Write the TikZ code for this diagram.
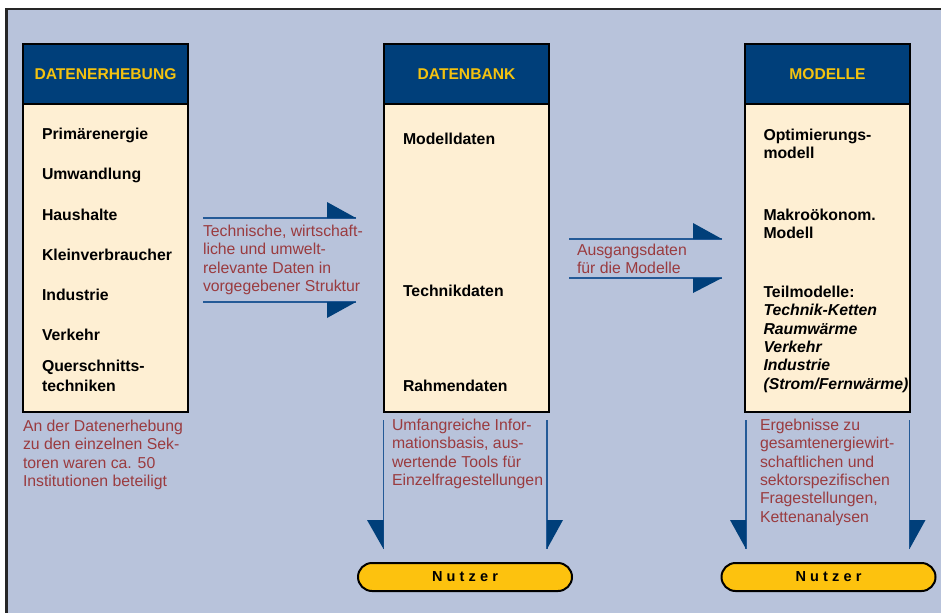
\documentclass[tikz,border=0pt]{standalone}
\usepackage{fontspec}
\setmainfont{Liberation Sans}
\definecolor{bg}{HTML}{B8C3DB}
\definecolor{hdr}{HTML}{003F7A}
\definecolor{cream}{HTML}{FEEFD3}
\definecolor{goldtxt}{HTML}{F4C20F}
\definecolor{redtxt}{HTML}{9A3B3F}
\definecolor{arrline}{HTML}{245A97}
\definecolor{pillgold}{HTML}{FDC20E}
\begin{document}
\begin{tikzpicture}[x=0.75pt,y=-0.75pt,
  hdrbox/.style={draw=black, line width=1.1pt, fill=hdr, minimum width=123.75pt, minimum height=45pt, inner sep=0pt, outer sep=0pt, text=goldtxt, font=\fontsize{11.7}{13}\selectfont\bfseries},
  bodybox/.style={draw=black, line width=1.1pt, fill=cream, minimum width=123.75pt, minimum height=231pt, inner sep=0pt, outer sep=0pt},
  item/.style={anchor=base west, inner sep=0pt, outer sep=0pt, align=left, font=\fontsize{11.85}{15}\selectfont\bfseries},
  note/.style={anchor=base west, inner sep=0pt, outer sep=0pt, align=left, text=redtxt, font=\fontsize{11.85}{13.7}\selectfont},
  flowline/.style={draw=arrline, line width=1.1pt},
  headtri/.style={fill=hdr},
  pill/.style={draw=black, line width=1.5pt, fill=pillgold, minimum width=160.5pt, minimum height=21pt, rounded corners=10.5pt, inner sep=0pt, font=\fontsize{10.9}{12}\selectfont\bfseries}
]
\useasboundingbox (0,0) rectangle (941,613);
\clip (0,0) rectangle (941,613);
\fill[white] (0,0) rectangle (941,613);
\draw[line width=1.9pt, draw=black!85, fill=bg] (6.5,8.8) rectangle (1000,700);

% boxes
\node[bodybox] (b1) at (105.5,258) {};
\node[hdrbox] (h1) at (105.5,74) {DATENERHEBUNG};
\node[bodybox] (b2) at (466.5,258) {};
\node[hdrbox] (h2) at (466.5,74) {DATENBANK};
\node[bodybox] (b3) at (827.5,258) {};
\node[hdrbox] (h3) at (827.5,74) {MODELLE};

% box 1 items (multi-line nodes: base = last line)
\node[item] (i11) at (42,140) {Primärenergie};
\node[item] (i12) at (42,180) {Umwandlung};
\node[item] (i13) at (42,220) {Haushalte};
\node[item] (i14) at (42,260) {Kleinverbraucher};
\node[item] (i15) at (42,300) {Industrie};
\node[item] (i16) at (42,340) {Verkehr};
\node[item] (i17) at (42,391) {Querschnitts-\\techniken};

% box 2 items
\node[item] (i21) at (403,144.3) {Modelldaten};
\node[item] (i22) at (403,296.7) {Technikdaten};
\node[item] (i23) at (403,391) {Rahmendaten};

% box 3 items
\node[item, font=\fontsize{11.85}{13.5}\selectfont\bfseries] (i31) at (763.5,158.7) {Optimierungs-\\modell};
\node[item, font=\fontsize{11.85}{13.5}\selectfont\bfseries] (i32) at (763.5,238.7) {Makroökonom.\\Modell};
\node[item, font=\fontsize{11.85}{13.75}\selectfont\bfseries] (i33) at (763.5,389) {Teilmodelle:\\\textit{Technik-Ketten}\\\textit{Raumwärme}\\\textit{Verkehr}\\\textit{Industrie}\\\textit{(Strom/Fernwärme)}};

% notes
\node[note] (n1) at (203,291.5) {Technische, wirtschaft-\\liche und umwelt-\\relevante Daten in\\vorgegebener Struktur};
\node[note, font=\fontsize{11.85}{13.2}\selectfont] (n2) at (577,273.3) {Ausgangsdaten\\für die Modelle};
\node[note] (n3) at (23,486.5) {An der Datenerhebung\\zu den einzelnen Sek-\\toren waren ca. 50\\Institutionen beteiligt};
\node[note] (n4) at (392,485.5) {Umfangreiche Infor-\\mationsbasis, aus-\\wertende Tools für\\Einzelfragestellungen};
\node[note] (n5) at (760,522) {Ergebnisse zu\\gesamtenergiewirt-\\schaftlichen und\\sektorspezifischen\\Fragestellungen,\\Kettenanalysen};

% pills
\node[pill] (u1) at (465,577) {N\kern3.1pt u\kern3.1pt t\kern3.1pt z\kern3.1pt e\kern3.1pt r};
\node[pill] (u2) at (828.5,577) {N\kern3.1pt u\kern3.1pt t\kern3.1pt z\kern3.1pt e\kern3.1pt r};

% horizontal arrows box1 -> box2
\coordinate (a1s) at (203,218); \coordinate (a1e) at (356,218);
\coordinate (a2s) at (203,302); \coordinate (a2e) at (356,302);
\draw[flowline] (a1s) -- (a1e);
\fill[headtri] (327,202) -- (327,218) -- (a1e) -- cycle;
\draw[flowline] (a2s) -- (a2e);
\fill[headtri] (327,318) -- (327,302) -- (a2e) -- cycle;

% horizontal arrows box2 -> box3
\coordinate (a3s) at (569,239); \coordinate (a3e) at (722,239);
\coordinate (a4s) at (569,278); \coordinate (a4e) at (722,278);
\draw[flowline] (a3s) -- (a3e);
\fill[headtri] (693,223) -- (693,239) -- (a3e) -- cycle;
\draw[flowline] (a4s) -- (a4e);
\fill[headtri] (693,293) -- (693,278) -- (a4e) -- cycle;

% vertical arrows box2 -> Nutzer
\coordinate (v1s) at (383.5,420); \coordinate (v1e) at (383.5,549);
\coordinate (v2s) at (547,420); \coordinate (v2e) at (547,549);
\draw[flowline] (v1s) -- (v1e);
\fill[headtri] (367,520) -- (383.5,520) -- (v1e) -- cycle;
\draw[flowline] (v2s) -- (v2e);
\fill[headtri] (563,520) -- (547,520) -- (v2e) -- cycle;

% vertical arrows box3 -> Nutzer
\coordinate (v3s) at (746,420); \coordinate (v3e) at (746,549);
\coordinate (v4s) at (909.5,420); \coordinate (v4e) at (909.5,549);
\draw[flowline] (v3s) -- (v3e);
\fill[headtri] (730,520) -- (746,520) -- (v3e) -- cycle;
\draw[flowline] (v4s) -- (v4e);
\fill[headtri] (925.5,520) -- (909.5,520) -- (v4e) -- cycle;
\end{tikzpicture}
\end{document}
